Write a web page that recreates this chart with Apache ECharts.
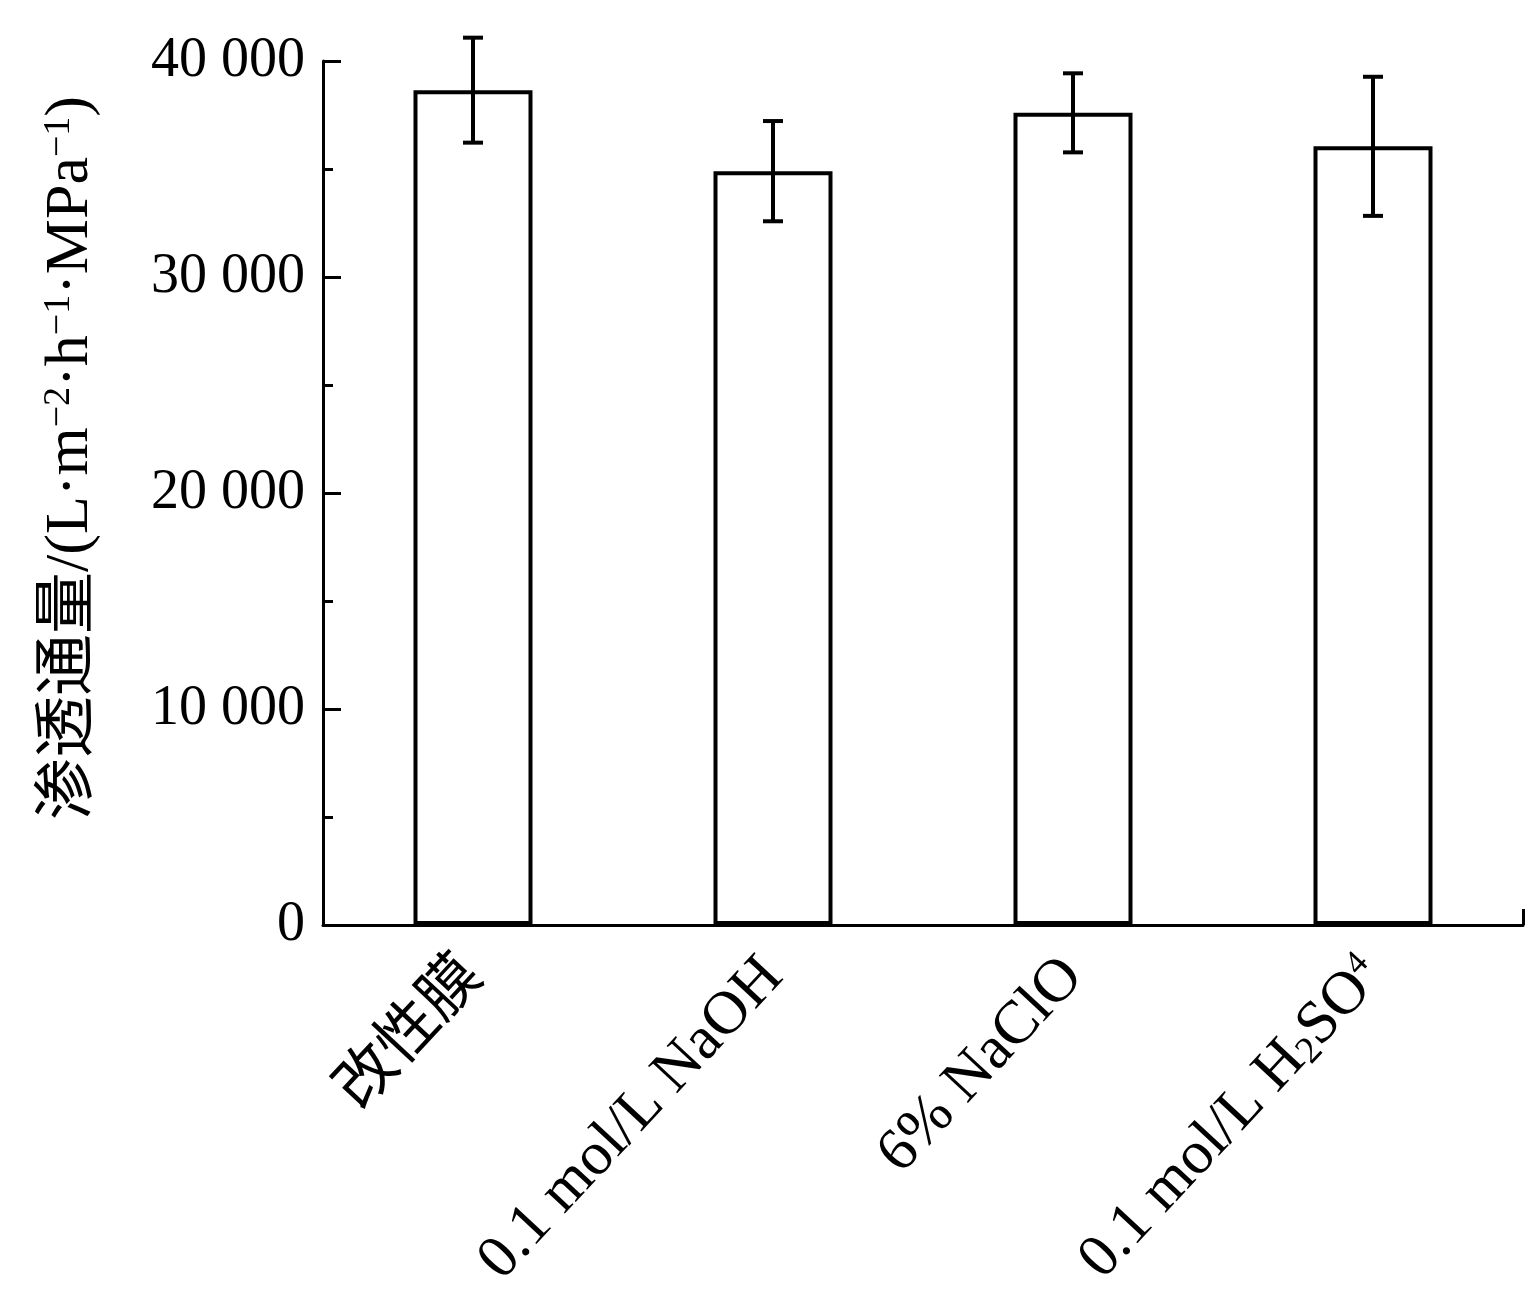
<!DOCTYPE html>
<html><head><meta charset="utf-8">
<script src="https://cdn.jsdelivr.net/npm/echarts@6/dist/echarts.min.js"></script>
<style>html,body{margin:0;padding:0;background:#fff}#c{width:1540px;height:1308px}</style>
</head><body><div id="c"></div>
<script>
const categories = ['改性膜', '0.1 mol/L NaOH', '6% NaClO', '0.1 mol/L H2SO4'];
const categoryLabels = ['改性膜', '0.1 mol/L NaOH', '6% NaClO', '0.1 mol/L H{sub|2}SO{sup|4}'];
const fluxMean = [38650, 34900, 37600, 36050];
const fluxErr = [2430, 2320, 1830, 3220];
const yTicks = [0, 10000, 20000, 30000, 40000];

const serif = '"Liberation Serif", "Times New Roman", "Noto Sans CJK SC", serif';
const chart = echarts.init(document.getElementById('c'), null, {renderer: 'canvas'});

const errData = categories.map((c, i) => [i, fluxMean[i] - fluxErr[i], fluxMean[i] + fluxErr[i]]);

chart.setOption({
  animation: false,
  backgroundColor: '#fff',
  grid: {left: 323, right: 17, top: 61, bottom: 383, containLabel: false},
  xAxis: [{
    type: 'category',
    data: categories,
    boundaryGap: true,
    axisLine: {show: true, lineStyle: {color: '#000', width: 3}},
    axisTick: {show: false},
    axisLabel: {
      rotate: 47, margin: 42, color: '#000', fontSize: 61, fontFamily: serif, interval: 0,
      formatter: (v, i) => categoryLabels[i],
      rich: {
        sub: {fontSize: 38, fontFamily: serif, color: '#000', verticalAlign: 'bottom', lineHeight: 38},
        sup: {fontSize: 34, fontFamily: serif, color: '#000', verticalAlign: 'top', lineHeight: 34}
      }
    },
    splitLine: {show: false}
  }, {
    type: 'value', position: 'bottom', min: 0, max: 4, interval: 4,
    axisLine: {show: false},
    axisTick: {show: true, inside: true, length: 16, lineStyle: {color: '#000', width: 3}},
    axisLabel: {show: false}, splitLine: {show: false}
  }],
  yAxis: {
    type: 'value', min: 0, max: 40000, interval: 10000,
    name: '渗透通量/(L·m{sup|−2}·h{sup|−1}·MPa{sup|−1})',
    nameLocation: 'middle', nameGap: 221, nameRotate: 90,
    nameTextStyle: {
      color: '#000', fontSize: 62, fontFamily: serif, padding: [0, 0, 0, 70],
      rich: {
        sup: {fontSize: 38, fontFamily: serif, color: '#000', verticalAlign: 'top', lineHeight: 38}
      }
    },
    axisLine: {show: true, lineStyle: {color: '#000', width: 3}},
    axisTick: {show: true, inside: true, length: 18, lineStyle: {color: '#000', width: 3}},
    minorTick: {show: true, splitNumber: 2, length: 10, lineStyle: {color: '#000', width: 3}},
    axisLabel: {
      color: '#000', fontSize: 56, fontFamily: serif, margin: 18,
      formatter: v => v === 0 ? '0' : String(v).replace(/\B(?=(\d{3})+(?!\d))/g, ' ')
    },
    splitLine: {show: false}
  },
  series: [{
    type: 'bar', data: fluxMean, barWidth: 119,
    itemStyle: {color: '#fff', borderColor: '#000', borderWidth: 4},
    z: 2
  }, {
    type: 'custom', data: errData, z: 3,
    renderItem: (params, api) => {
      const x = api.value(0);
      const lo = api.coord([x, api.value(1)]);
      const hi = api.coord([x, api.value(2)]);
      const hw = 10;
      const st = {stroke: '#000', lineWidth: 4};
      return {type: 'group', children: [
        {type: 'line', shape: {x1: lo[0], y1: lo[1], x2: hi[0], y2: hi[1]}, style: st},
        {type: 'line', shape: {x1: lo[0] - hw, y1: lo[1], x2: lo[0] + hw, y2: lo[1]}, style: st},
        {type: 'line', shape: {x1: hi[0] - hw, y1: hi[1], x2: hi[0] + hw, y2: hi[1]}, style: st}
      ]};
    }
  }]
});
</script></body></html>
